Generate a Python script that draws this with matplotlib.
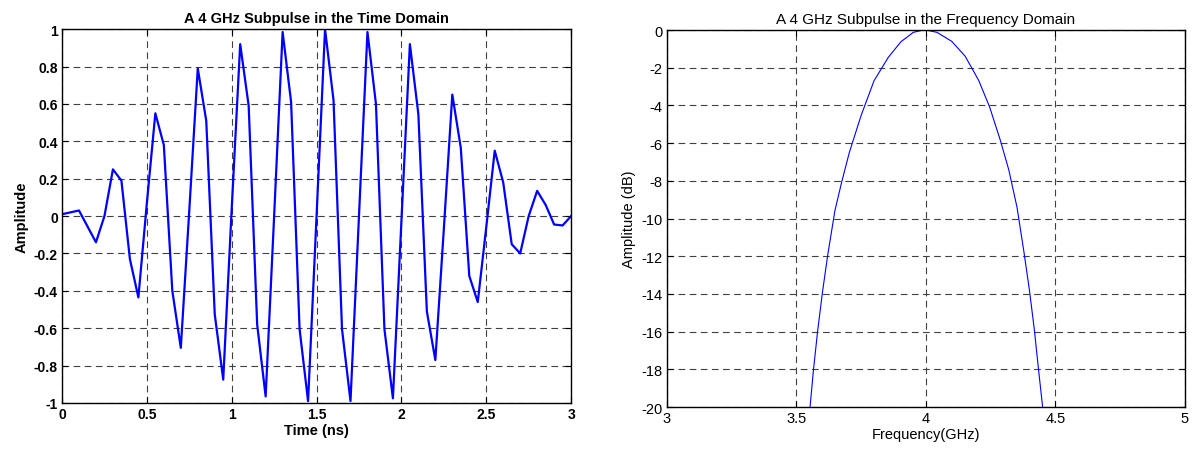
#!/usr/bin/env python3

"""Plots a 4 GHz subpulse in the time and frequency domains."""

import matplotlib
matplotlib.use('Agg')
import matplotlib.pyplot as plt
import numpy as np

# time-domain samples (ns, amplitude)
time_ns = np.round(np.arange(61) * 0.05, 2)
amplitude = [
    0.01, 0.02, 0.03, -0.055, -0.14, 0.0, 0.25, 0.19, -0.23, -0.435,
    0.07, 0.55, 0.38, -0.40, -0.705, 0.03, 0.79, 0.51, -0.525, -0.875,
    0.04, 0.92, 0.59, -0.58, -0.965, 0.0, 0.985, 0.61, -0.605, -0.99,
    0.0, 1.0, 0.62, -0.605, -0.99, 0.0, 0.985, 0.60, -0.605, -0.975,
    -0.03, 0.92, 0.545, -0.51, -0.77, -0.07, 0.65, 0.365, -0.32, -0.46,
    -0.06, 0.35, 0.18, -0.15, -0.20, 0.0, 0.135, 0.06, -0.045, -0.05,
    0.0,
]

# frequency-domain curve (GHz, dB)
freq_ghz = [3.553, 3.566, 3.582, 3.601, 3.621, 3.649, 3.675, 3.705, 3.75,
            3.80, 3.855, 3.904, 3.952, 3.984, 4.0, 4.043, 4.10, 4.152,
            4.204, 4.246, 4.287, 4.32, 4.352, 4.378, 4.40, 4.419, 4.435,
            4.451]
mag_db = [-20.0, -18.06, -16.0, -13.9, -11.96, -9.58, -8.07, -6.48, -4.54,
          -2.69, -1.45, -0.62, -0.12, -0.02, 0.0, -0.12, -0.6, -1.39,
          -2.67, -4.07, -5.82, -7.4, -9.4, -11.7, -13.8, -15.9, -18.0,
          -20.0]

plt.rcParams['font.family'] = ['Liberation Sans', 'DejaVu Sans']
plt.rcParams['axes.unicode_minus'] = False


def fmt(v):
    return '%g' % (round(v, 2) + 0.0)


def style_axes(ax, bold, size):
    weight = 'bold' if bold else 'normal'
    ax.tick_params(direction='in', top=True, right=True, length=4,
                   width=0.8, labelsize=size, pad=3)
    for lab in ax.get_xticklabels() + ax.get_yticklabels():
        lab.set_fontweight(weight)
    for s in ax.spines.values():
        s.set_linewidth(1.0)
    ax.grid(True, color='0.25', linestyle=(0, (6, 4)), linewidth=0.8)
    ax.set_axisbelow(True)


fig = plt.figure(figsize=(11.95, 4.52), dpi=100)

ax1 = fig.add_axes([0.0519, 0.1062, 0.426, 0.827])
ax1.plot(time_ns, amplitude, color='#0000ff', linewidth=1.6)
ax1.set_xlim(0, 3)
ax1.set_ylim(-1, 1)
xt = np.arange(0, 3.01, 0.5)
ax1.set_xticks(xt)
ax1.set_xticklabels([fmt(v) for v in xt])
yt = np.arange(-1, 1.01, 0.2)
ax1.set_yticks(yt)
ax1.set_yticklabels([fmt(v) for v in yt])
style_axes(ax1, True, 10)
ax1.set_title('A 4 GHz Subpulse in the Time Domain', fontsize=10.5,
              fontweight='bold', pad=5)
ax1.set_xlabel('Time (ns)', fontsize=10.5, fontweight='bold', labelpad=1)
ax1.set_ylabel('Amplitude', fontsize=10.5, fontweight='bold', labelpad=4)

ax2 = fig.add_axes([0.558, 0.0973, 0.4335, 0.834])
ax2.plot(freq_ghz, mag_db, color='#0000ff', linewidth=0.8)
ax2.set_xlim(3, 5)
ax2.set_ylim(-20, 0)
xt2 = np.arange(3, 5.01, 0.5)
ax2.set_xticks(xt2)
ax2.set_xticklabels([fmt(v) for v in xt2])
yt2 = np.arange(-20, 1, 2)
ax2.set_yticks(yt2)
ax2.set_yticklabels([fmt(v) for v in yt2])
style_axes(ax2, False, 10.5)
ax2.set_title('A 4 GHz Subpulse in the Frequency Domain', fontsize=11, pad=5)
ax2.set_xlabel('Frequency(GHz)', fontsize=10.5, labelpad=1)
ax2.set_ylabel('Amplitude (dB)', fontsize=10.5, labelpad=4)

fig.savefig('out.png', dpi=100)
